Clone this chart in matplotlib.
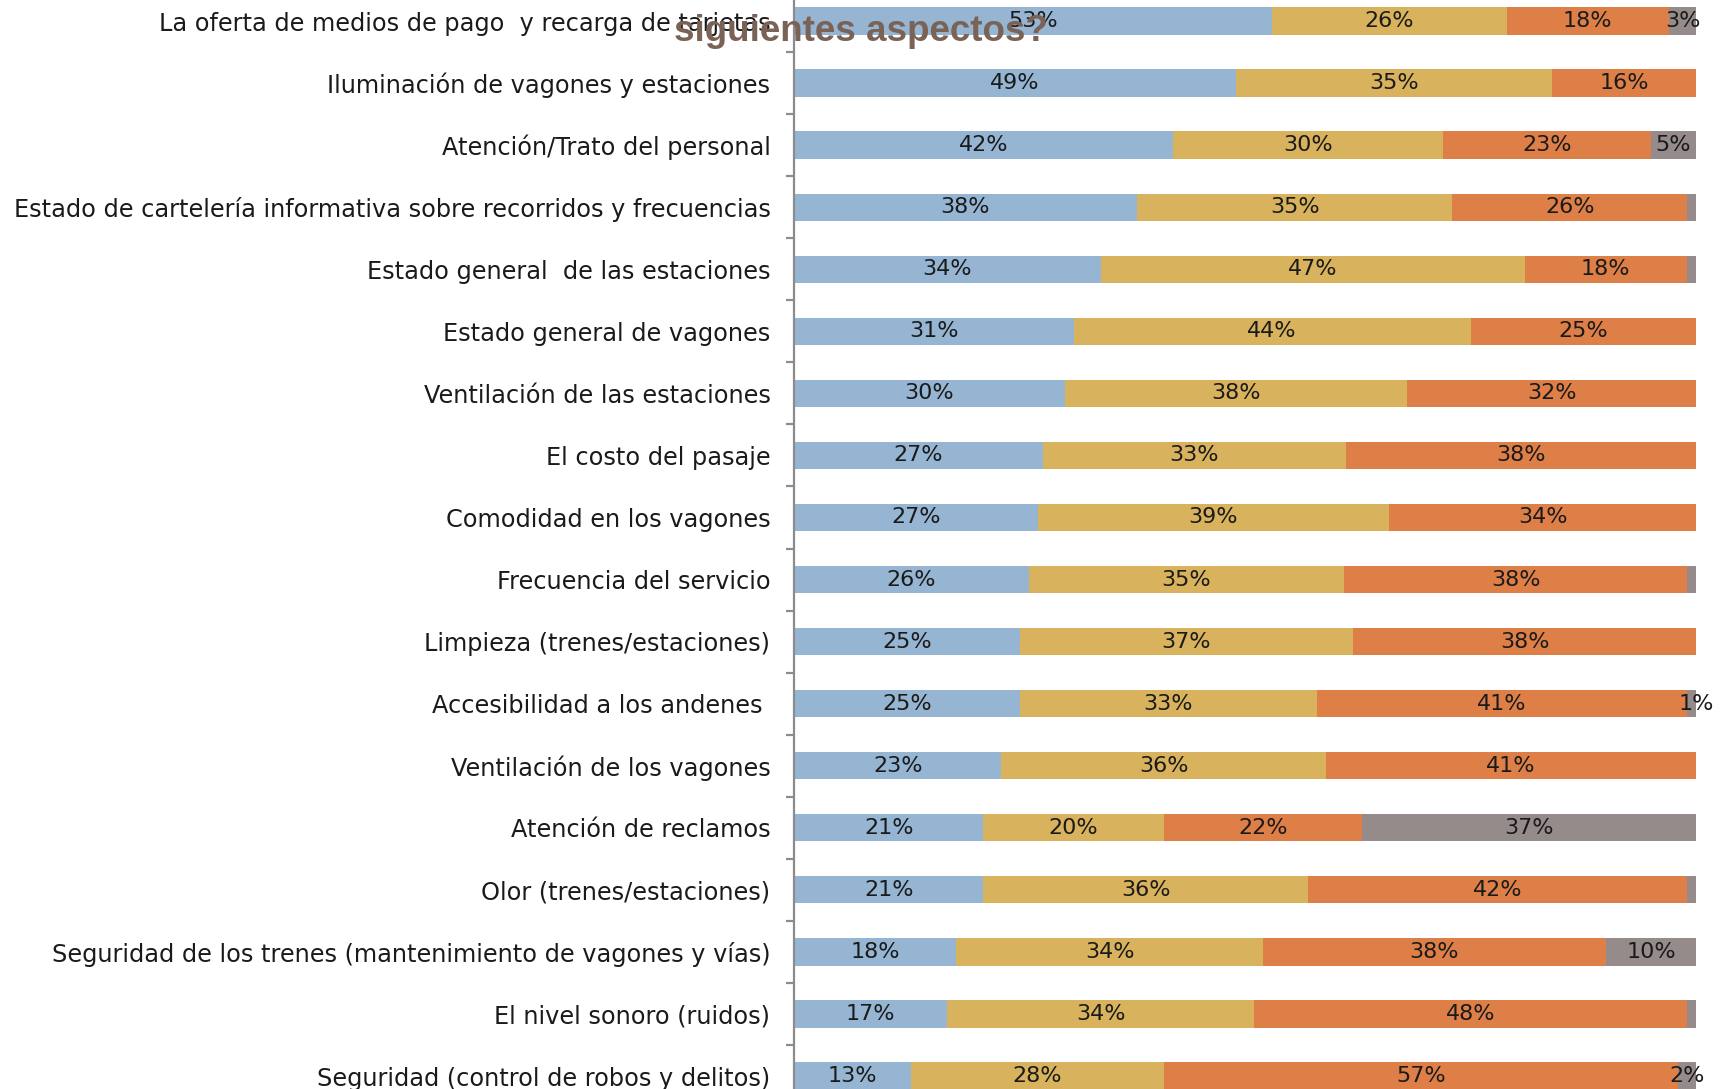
import matplotlib
matplotlib.use("Agg")
import matplotlib.pyplot as plt
from matplotlib.ticker import FixedLocator
import numpy as np

# Survey aspects, top to bottom
categories = [
    "La oferta de medios de pago  y recarga de tarjetas",
    "Iluminación de vagones y estaciones",
    "Atención/Trato del personal",
    "Estado de cartelería informativa sobre recorridos y frecuencias",
    "Estado general  de las estaciones",
    "Estado general de vagones",
    "Ventilación de las estaciones",
    "El costo del pasaje",
    "Comodidad en los vagones",
    "Frecuencia del servicio",
    "Limpieza (trenes/estaciones)",
    "Accesibilidad a los andenes ",
    "Ventilación de los vagones",
    "Atención de reclamos",
    "Olor (trenes/estaciones)",
    "Seguridad de los trenes (mantenimiento de vagones y vías)",
    "El nivel sonoro (ruidos)",
    "Seguridad (control de robos y delitos)",
]

# Percentages per rating group
good    = [53, 49, 42, 38, 34, 31, 30, 27, 27, 26, 25, 25, 23, 21, 21, 18, 17, 13]
regular = [26, 35, 30, 35, 47, 44, 38, 33, 39, 35, 37, 33, 36, 20, 36, 34, 34, 28]
bad     = [18, 16, 23, 26, 18, 25, 32, 38, 34, 38, 38, 41, 41, 22, 42, 38, 48, 57]
no_answer = [3, 0, 5, 1, 1, 0, 0, 0, 0, 1, 0, 1, 0, 37, 1, 10, 1, 2]
no_answer_labeled = [True, False, True, False, False, False, False, False, False,
                     False, False, True, False, True, False, True, False, True]

colors = ["#95B5D3", "#D8B25C", "#DE7F48", "#968B8B"]

W, H = 1725, 1089
fig = plt.figure(figsize=(W / 100, H / 100), dpi=100)

n = len(categories)
step = 62.06
top_center = 21.0
ax_top_px = top_center - step / 2
ax_h_px = step * n
ax_left_px, ax_right_px = 794, 1696
ax = fig.add_axes([ax_left_px / W, (H - ax_top_px - ax_h_px) / H,
                   (ax_right_px - ax_left_px) / W, ax_h_px / H])
ax.patch.set_alpha(0)

cat_font = dict(family=["DejaVu Sans"], fontsize=17.3, color="#1a1a1a")
val_font = dict(family=["DejaVu Sans"], fontsize=16, color="#1a1a1a")

series = [np.array(s, dtype=float) for s in (good, regular, bad, no_answer)]
totals = sum(series)

# 100% stacked bars: each row is scaled to its own total
y = np.arange(n)
left = np.zeros(n)
for i, vals in enumerate(series):
    widths = vals / totals * 100
    ax.barh(y, widths, left=left, height=0.44, color=colors[i], edgecolor="none")
    for k in range(n):
        if vals[k] <= 0:
            continue
        if i == 3 and not no_answer_labeled[k]:
            continue
        cx = left[k] + widths[k] / 2
        if i == 3 and vals[k] < 2:
            cx = left[k] + widths[k]
        ax.text(cx, y[k], f"{int(vals[k])}%", ha="center", va="center", **val_font)
    left += widths

ax.set_xlim(0, 100)
ax.set_ylim(n - 0.5, -0.5)
ax.set_xticks([])
ax.set_yticks(y)
ax.set_yticklabels(categories, **cat_font)
ax.tick_params(axis="y", which="major", length=0, pad=17)
ax.yaxis.set_minor_locator(FixedLocator(np.arange(n + 1) - 0.5))
ax.tick_params(axis="y", which="minor", length=6, width=1.6, color="#8c8c8c", direction="out")
for s in ["top", "right", "bottom"]:
    ax.spines[s].set_visible(False)
ax.spines["left"].set_color("#8c8c8c")
ax.spines["left"].set_linewidth(1.6)

fig.text(674 / W, 1 - 41 / H, "siguientes aspectos?", ha="left", va="baseline",
         family=["Liberation Sans Narrow", "Liberation Sans", "DejaVu Sans"],
         fontweight="bold", fontsize=26.5, color="#7A6257")

fig.savefig("out.png", dpi=100)
